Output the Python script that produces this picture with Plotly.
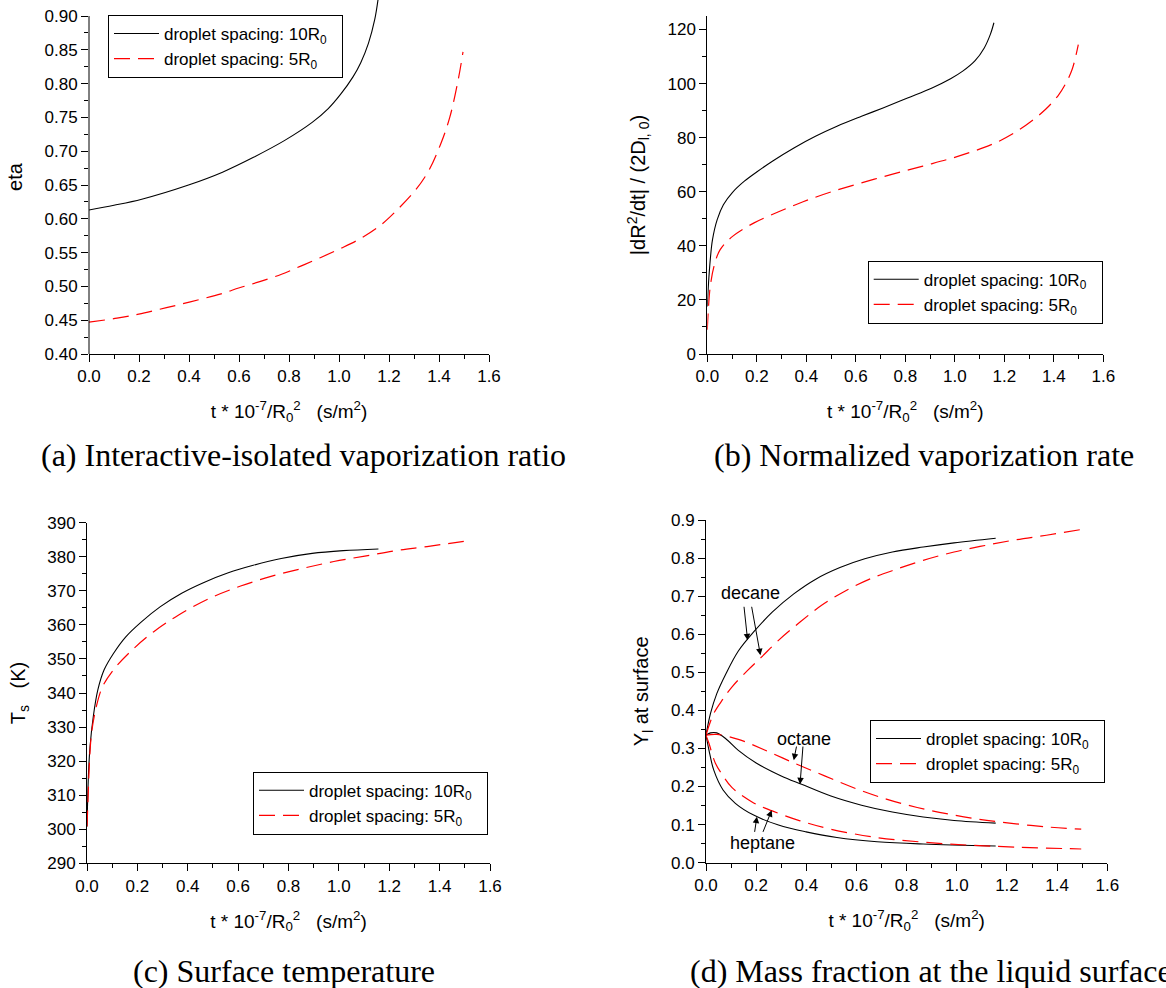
import plotly.graph_objects as go

# ---- (a) interactive-isolated vaporization ratio ----
t_a_10 = [0, 0.1, 0.211, 0.398, 0.534, 0.658, 0.783, 0.894, 0.957, 1.006, 1.056, 1.087, 1.118, 1.143, 1.156]
eta_10 = [0.613, 0.620, 0.629, 0.650, 0.669, 0.691, 0.716, 0.743, 0.763, 0.784, 0.810, 0.831, 0.860, 0.895, 0.924]
t_a_5 = [0, 0.112, 0.199, 0.280, 0.360, 0.447, 0.528, 0.602, 0.683, 0.770, 0.847, 0.925, 1.006,
         1.087, 1.161, 1.232, 1.307, 1.360, 1.406, 1.443, 1.478, 1.496]
eta_5 = [0.447, 0.453, 0.459, 0.466, 0.473, 0.481, 0.489, 0.498, 0.507, 0.518, 0.530, 0.5425, 0.556,
         0.571, 0.589, 0.613, 0.643, 0.672, 0.710, 0.750, 0.808, 0.847]

# ---- (b) normalized vaporization rate ----
t_b_10 = [0, 0.005, 0.012, 0.021, 0.040, 0.065, 0.102, 0.151, 0.201, 0.263, 0.350, 0.437, 0.524,
          0.623, 0.710, 0.809, 0.908, 0.983, 1.032, 1.082, 1.119, 1.144, 1.158]
rate_10 = [17.6, 26.3, 34.9, 42.3, 49.7, 55.2, 59.8, 64.0, 67.4, 71.3, 76.2, 80.5, 84.2,
           87.9, 91.0, 94.7, 98.4, 101.8, 104.6, 108.5, 113.2, 118.3, 122.5]
t_b_5 = [0, 0.005, 0.012, 0.027, 0.052, 0.102, 0.189, 0.288, 0.387, 0.499, 0.623, 0.749, 0.871,
         0.995, 1.119, 1.181, 1.243, 1.305, 1.367, 1.417, 1.448, 1.475, 1.499]
rate_5 = [9.0, 17.6, 25.0, 32.4, 38.6, 43.5, 48.5, 52.6, 56.3, 59.9, 63.3, 66.5, 69.5,
          72.6, 76.4, 78.8, 81.9, 85.8, 90.5, 95.5, 100.0, 105.5, 114.4]

# ---- (c) surface temperature ----
t_c_10 = [0, 0.006, 0.012, 0.025, 0.043, 0.068, 0.105, 0.154, 0.216, 0.290, 0.376, 0.462, 0.561,
          0.660, 0.771, 0.894, 1.017, 1.157]
ts_10 = [300.8, 316.4, 324.2, 333.1, 340.9, 346.8, 351.6, 356.5, 360.9, 365.3, 369.3, 372.4, 375.3,
         377.5, 379.5, 381.0, 381.8, 382.3]
t_c_5 = [0, 0.004, 0.009, 0.018, 0.037, 0.062, 0.105, 0.179, 0.265, 0.364, 0.487, 0.610, 0.734,
         0.857, 0.980, 1.103, 1.227, 1.350, 1.496]
ts_5 = [300.8, 308.6, 318.4, 328.2, 336.0, 341.9, 346.8, 352.6, 358.0, 362.9, 367.8, 371.4, 374.3,
        376.6, 378.6, 380.2, 381.8, 383.0, 384.5]

# ---- (d) mass fraction at the liquid surface ----
t_dec_10 = [0, 0.018, 0.043, 0.080, 0.129, 0.190, 0.264, 0.350, 0.436, 0.534, 0.633, 0.743, 0.866, 0.989, 1.155]
dec_10 = [0.335, 0.392, 0.444, 0.497, 0.556, 0.606, 0.658, 0.706, 0.744, 0.775, 0.798, 0.816, 0.829, 0.840, 0.852]
t_oct_10 = [0, 0.018, 0.043, 0.080, 0.129, 0.2, 0.3, 0.381, 0.498, 0.62, 0.743, 0.866, 0.989, 1.155]
oct_10 = [0.335, 0.341, 0.341, 0.325, 0.295, 0.262, 0.228, 0.206, 0.175, 0.151, 0.133, 0.120, 0.111, 0.104]
t_hep_10 = [0, 0.012, 0.031, 0.068, 0.117, 0.190, 0.289, 0.399, 0.522, 0.682, 0.866, 1.155]
hep_10 = [0.335, 0.295, 0.243, 0.191, 0.156, 0.125, 0.099, 0.081, 0.066, 0.055, 0.049, 0.044]
t_dec_5 = [0, 0.031, 0.068, 0.104, 0.166, 0.221, 0.289, 0.375, 0.461, 0.559, 0.657, 0.756, 0.866,
           0.989, 1.112, 1.235, 1.357, 1.496]
dec_5 = [0.335, 0.392, 0.430, 0.462, 0.505, 0.540, 0.584, 0.632, 0.676, 0.715, 0.746, 0.770, 0.794,
         0.816, 0.833, 0.848, 0.860, 0.875]
t_oct_5 = [0, 0.043, 0.129, 0.227, 0.35, 0.473, 0.596, 0.719, 0.842, 0.964, 1.087, 1.21, 1.357, 1.496]
oct_5 = [0.335, 0.337, 0.324, 0.298, 0.262, 0.228, 0.195, 0.167, 0.145, 0.128, 0.114, 0.104, 0.094, 0.088]
t_hep_5 = [0, 0.012, 0.037, 0.068, 0.104, 0.190, 0.264, 0.375, 0.498, 0.682, 0.866, 1.050, 1.235, 1.496]
hep_5 = [0.335, 0.313, 0.262, 0.228, 0.197, 0.157, 0.136, 0.110, 0.088, 0.066, 0.054, 0.046, 0.041, 0.036]

NAME_10 = "droplet spacing: 10R<sub>0</sub>\u00a0\u00a0"
NAME_5 = "droplet spacing: 5R<sub>0</sub>"
X_TITLE = "t * 10<sup>-7</sup>/R<sub>0</sub><sup>2</sup>\u00a0\u00a0\u00a0(s/m<sup>2</sup>)"

SANS = "Liberation Sans, Arial, sans-serif"
SERIF = "Liberation Serif, Times New Roman, serif"

solid = dict(color="black", width=1.1, shape="spline", smoothing=1.0)
dashed = dict(color="#ff0000", width=1.2, dash="16px,8px", shape="spline", smoothing=1.0)

fig = go.Figure()


def add_pair(xa, ya, tx10, y10, tx5, y5, legend, show=True):
    fig.add_trace(go.Scatter(x=tx10, y=y10, mode="lines", line=solid, name=NAME_10,
                             xaxis=xa, yaxis=ya, legend=legend, showlegend=show))
    fig.add_trace(go.Scatter(x=tx5, y=y5, mode="lines", line=dashed, name=NAME_5,
                             xaxis=xa, yaxis=ya, legend=legend, showlegend=show))


add_pair("x", "y", t_a_10, eta_10, t_a_5, eta_5, "legend")
add_pair("x2", "y2", t_b_10, rate_10, t_b_5, rate_5, "legend2")
add_pair("x3", "y3", t_c_10, ts_10, t_c_5, ts_5, "legend3")
add_pair("x4", "y4", t_dec_10, dec_10, t_dec_5, dec_5, "legend4")
add_pair("x4", "y4", t_oct_10, oct_10, t_oct_5, oct_5, "legend4", show=False)
add_pair("x4", "y4", t_hep_10, hep_10, t_hep_5, hep_5, "legend4", show=False)

TICK_FONT = dict(size=17, family=SANS, color="black")


def xaxis(domain, anchor):
    return dict(domain=domain, anchor=anchor, range=[0, 1.6], dtick=0.2, tick0=0,
                tickformat=".1f", showline=True, linecolor="black", linewidth=1,
                ticks="outside", ticklen=7, tickcolor="black", showgrid=False, zeroline=False,
                tickfont=TICK_FONT, automargin=False,
                minor=dict(ticks="outside", ticklen=4, tickcolor="black", dtick=0.1, showgrid=False),
                title=dict(text=X_TITLE, font=dict(size=19, family=SANS, color="black"), standoff=19))


def yaxis(domain, anchor, rng, dtick, minor, fmt, title, showline=True, standoff=16):
    return dict(domain=domain, anchor=anchor, range=rng, dtick=dtick, tick0=rng[0],
                tickformat=fmt, showline=showline, linecolor="black", linewidth=1,
                ticks="outside", ticklen=7, tickcolor="black", showgrid=False, zeroline=False,
                tickfont=TICK_FONT, automargin=False,
                minor=dict(ticks="outside", ticklen=4, tickcolor="black", dtick=minor, showgrid=False),
                title=dict(text=title, font=dict(size=20, family=SANS, color="black"), standoff=standoff))


W, H = 1166, 988


def px_x(a, b):
    return [a / W, b / W]


def px_y(top, bottom):
    return [1 - bottom / H, 1 - top / H]


legend_style = dict(bordercolor="black", borderwidth=1, bgcolor="white",
                    font=dict(size=17, family=SANS, color="black"),
                    xanchor="left", yanchor="top", tracegroupgap=0, itemwidth=45)

fig.update_layout(
    width=W, height=H, margin=dict(l=0, r=0, t=0, b=0, autoexpand=False),
    paper_bgcolor="white", plot_bgcolor="white",
    xaxis=xaxis(px_x(89, 489), "y"),
    yaxis=yaxis(px_y(0, 354), "x", [0.40, 0.9237], 0.05, 0.025, ".2f", "eta", showline=False),
    xaxis2=xaxis(px_x(707.3, 1103.3), "y2"),
    yaxis2=yaxis(px_y(16, 354), "x2", [0, 125], 20, 10, "d",
                 "|dR<sup>2</sup>/dt| / (2D<sub>l, 0</sub>)"),
    xaxis3=xaxis(px_x(87, 490), "y3"),
    yaxis3=yaxis(px_y(522.7, 863.3), "x3", [290, 390], 10, 5, "d",
                 "T<sub>s</sub>\u00a0\u00a0\u00a0(K)"),
    xaxis4=xaxis(px_x(706, 1107.3), "y4"),
    yaxis4=yaxis(px_y(520, 862.7), "x4", [0, 0.9], 0.1, 0.05, ".1f",
                 "Y<sub>l</sub> at surface"),
    legend=dict(x=108 / W, y=1 - 15 / H, **legend_style),
    legend2=dict(x=867.7 / W, y=1 - 260.7 / H, **legend_style),
    legend3=dict(x=253 / W, y=1 - 771.7 / H, **legend_style),
    legend4=dict(x=870 / W, y=1 - 720 / H, **legend_style),
    showlegend=True,
)

# left axis line of panel (a) stops at the last labelled tick
fig.add_shape(type="line", xref="x domain", yref="y", x0=0, x1=0, y0=0.40, y1=0.90,
              line=dict(color="black", width=1))

# species labels with pointer arrows in panel (d)
label_font = dict(size=18, family=SANS, color="black")
for text, tx, ty in [("decane", 0.178, 0.708), ("octane", 0.389, 0.326), ("heptane", 0.227, 0.052)]:
    fig.add_annotation(x=tx, y=ty, xref="x4", yref="y4", text=text, showarrow=False, font=label_font)

arrows = [
    (0.151, 0.676, 0.166, 0.584),
    (0.181, 0.676, 0.217, 0.545),
    (0.362, 0.309, 0.350, 0.269),
    (0.387, 0.309, 0.375, 0.206),
    (0.193, 0.077, 0.203, 0.121),
    (0.225, 0.077, 0.262, 0.138),
]
for x0, y0, x1, y1 in arrows:
    fig.add_annotation(x=x1, y=y1, ax=x0, ay=y0, xref="x4", yref="y4", axref="x4", ayref="y4",
                       text="", showarrow=True, arrowhead=2, arrowsize=1.3, arrowwidth=1,
                       arrowcolor="black")

# sub-figure captions
cap_font = dict(size=32, family=SERIF, color="black")
captions = [
    ("(a) Interactive-isolated vaporization ratio", 303, 455, "center"),
    ("(b) Normalized vaporization rate", 924, 455, "center"),
    ("(c) Surface temperature", 284, 971, "center"),
    ("(d) Mass fraction at the liquid surface", 688, 971, "left"),
]
for text, cx, cy, anchor in captions:
    fig.add_annotation(x=cx / W, y=1 - cy / H, xref="paper", yref="paper", showarrow=False,
                       text=text, font=cap_font, xanchor=anchor, yanchor="middle")

fig.write_html("out.html")
